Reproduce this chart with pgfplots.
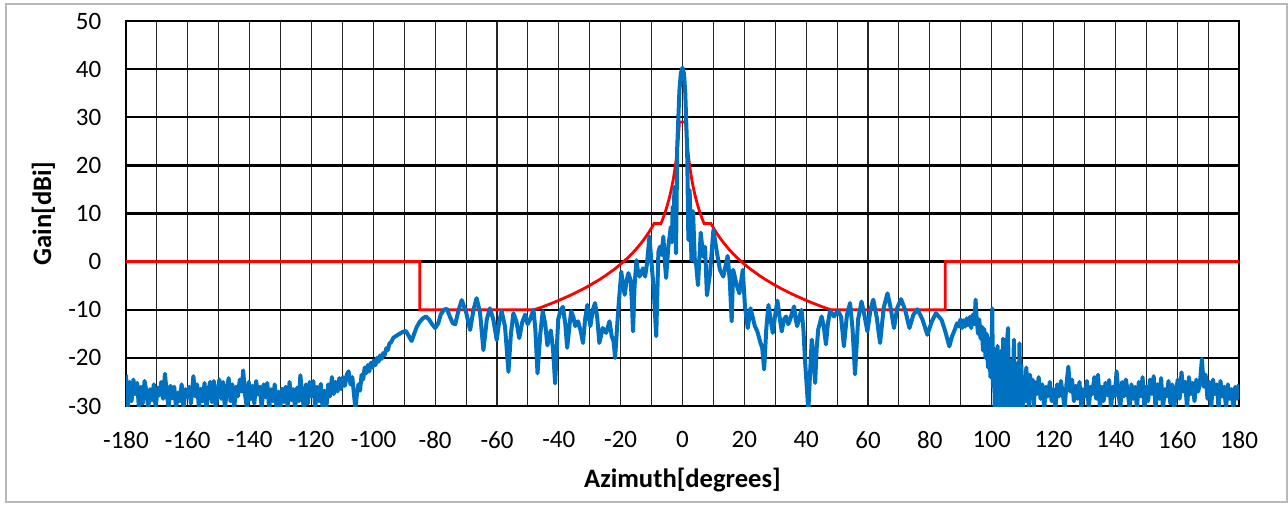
\documentclass[border=0pt]{standalone}
\usepackage{pgfplots}
\pgfplotsset{compat=1.18}
\usepackage{fontspec}
\setmainfont{Carlito}
\definecolor{meas}{HTML}{0070C0}
\definecolor{mask}{HTML}{FF0000}

\begin{document}
\begin{tikzpicture}
\begin{axis}[
  at={(0,0)}, anchor=south west,
  scale only axis,
  width=556.5pt, height=192.5pt,
  xmin=-180, xmax=180, ymin=-30, ymax=50,
  xtick={-180,-160,...,180},
  xticklabels={-180,-160,-140,-120,-100,-80,-60,-40,-20,0,20,40,60,80,100,120,140,160,180},
  minor x tick num=1,
  ytick={-30,-20,...,50},
  yticklabels={-30,-20,-10,0,10,20,30,40,50},
  major tick length=0pt, minor tick length=0pt,
  xmajorgrids, xminorgrids, ymajorgrids,
  x grid style={black!85, line width=0.55pt},
  minor x grid style={black!85, line width=0.55pt},
  y grid style={black, line width=1.2pt},
  axis line style={black, line width=1.2pt},
  tick label style={font=\fontsize{12.5}{15}\selectfont},
  xticklabel style={yshift=-9.3pt},
  yticklabel style={xshift=-8.8pt},
  xlabel={Azimuth[degrees]},
  ylabel={Gain[dBi]},
  label style={font=\fontsize{13.3}{16}\selectfont\bfseries},
  xlabel style={at={(axis description cs:0.5,0)}, anchor=center, yshift=-37pt},
  ylabel style={at={(axis description cs:-0.0742,0.5)}, anchor=center},
]
% mask
\addplot[mask, line width=1.4pt] coordinates {
(-180,0) (-85,0) (-85,-10) (-48,-10) (-46,-9.57) (-45,-9.33) (-42,-8.58) (-40,-8.05)
(-37,-7.20) (-35,-6.60) (-32,-5.63) (-30,-4.93) (-27,-3.78) (-25,-2.95) (-22,-1.56)
(-20,-0.53) (-18,0.62) (-17,1.24) (-16,1.90) (-15,2.60) (-14,3.35) (-13,4.15) (-12,5.02)
(-11,5.97) (-10,7.00) (-9.2,7.90) (-8,7.90) (-7,7.90) (-6.5,8.68) (-6,9.55) (-5.5,10.49)
(-5,11.53) (-4.5,12.67) (-4,13.95) (-3.5,15.40) (-3,17.07) (-2.5,19.05) (-2,21.47)
(-1.5,24.60) (-1.2,27.00) (-1,29.00)
(1,29.00) (1.2,27.00) (1.5,24.60) (2,21.47) (2.5,19.05) (3,17.07) (3.5,15.40) (4,13.95)
(4.5,12.67) (5,11.53) (5.5,10.49) (6,9.55) (6.5,8.68) (7,7.90) (8,7.90) (9.2,7.90)
(10,7.00) (11,5.97) (12,5.02) (13,4.15) (14,3.35) (15,2.60) (16,1.90) (17,1.24)
(18,0.62) (20,-0.53) (22,-1.56) (25,-2.95) (27,-3.78) (30,-4.93) (32,-5.63) (35,-6.60)
(37,-7.20) (40,-8.05) (42,-8.58) (45,-9.33) (46,-9.57) (48,-10) (85,-10) (85,0) (180,0)
};
% measured pattern
\addplot[meas, line width=2pt, line join=round] table {
x y
-180.0 -23.5
-179.4 -30.5
-178.8 -25.0
-178.2 -29.0
-177.6 -24.5
-177.0 -27.5
-176.4 -25.2
-175.8 -30.5
-175.2 -26.0
-174.6 -29.5
-174.0 -24.8
-173.4 -27.0
-172.8 -30.5
-172.2 -26.5
-171.6 -28.8
-171.0 -25.5
-170.4 -30.5
-169.8 -26.2
-169.2 -27.8
-168.6 -25.0
-168.0 -28.5
-167.4 -23.3
-166.8 -27.5
-166.2 -30.5
-165.6 -25.8
-165.0 -28.4
-164.4 -26.0
-163.8 -30.5
-163.2 -27.2
-162.6 -29.0
-162.0 -25.5
-161.4 -30.5
-160.8 -26.5
-160.2 -28.2
-159.6 -26.0
-159.0 -29.5
-158.2 -23.8
-157.6 -28.0
-157.0 -25.5
-156.4 -30.5
-155.8 -26.4
-155.2 -29.0
-154.6 -25.2
-154.0 -30.5
-153.4 -27.0
-152.8 -25.0
-152.2 -29.2
-151.6 -24.8
-151.0 -30.5
-150.4 -27.5
-149.8 -24.5
-149.2 -28.5
-148.6 -25.0
-148.0 -30.5
-147.4 -26.8
-146.8 -24.2
-146.2 -29.0
-145.6 -25.5
-145.0 -30.5
-144.4 -26.0
-143.8 -28.0
-143.2 -24.5
-142.6 -27.0
-142.1 -22.6
-141.5 -27.5
-140.9 -30.5
-140.3 -25.0
-139.7 -28.6
-139.1 -25.8
-138.5 -29.5
-137.9 -24.8
-137.3 -27.6
-136.7 -26.0
-136.1 -30.5
-135.5 -25.5
-134.9 -28.2
-134.3 -25.2
-133.7 -30.5
-133.1 -26.5
-132.5 -29.0
-131.9 -25.5
-131.3 -30.5
-130.7 -27.0
-130.1 -30.5
-129.5 -26.4
-128.9 -29.2
-128.3 -26.0
-127.7 -30.5
-127.1 -25.0
-126.5 -28.8
-125.9 -26.5
-125.3 -30.5
-124.7 -26.2
-124.1 -29.0
-123.6 -23.6
-123.0 -28.2
-122.4 -30.5
-121.8 -25.5
-121.2 -29.5
-120.6 -25.0
-120.0 -28.0
-119.4 -24.8
-118.8 -30.5
-118.2 -26.0
-117.6 -29.0
-117.0 -25.4
-116.4 -30.5
-115.8 -26.8
-115.2 -30.5
-114.6 -25.5
-114.0 -28.0
-113.4 -24.0
-112.8 -27.5
-112.2 -25.0
-111.6 -27.0
-111.0 -24.2
-110.4 -26.5
-109.8 -24.0
-109.2 -25.8
-108.6 -23.5
-108.0 -22.8
-107.4 -25.5
-106.8 -24.0
-106.2 -28.0
-105.8 -30.5
-105.3 -27.5
-104.8 -25.5
-104.3 -26.8
-103.8 -23.5
-103.3 -24.5
-102.8 -22.0
-102.3 -23.2
-101.8 -21.5
-101.3 -22.8
-100.8 -21.0
-100.3 -22.0
-99.8 -20.5
-99.3 -21.5
-98.8 -20.0
-98.3 -20.8
-97.8 -19.5
-97.3 -20.2
-96.8 -19.0
-96.3 -19.4
-95.8 -18.0
-95.3 -18.4
-94.8 -17.0
-94.3 -16.8
-93.5 -15.8
-92.5 -15.4
-91.5 -15.0
-90.5 -14.6
-89.5 -14.4
-88.5 -15.5
-87.6 -16.5
-86.8 -15.0
-85.9 -13.5
-85.0 -12.5
-84.0 -11.8
-83.0 -11.4
-82.0 -12.0
-81.0 -13.0
-80.0 -13.8
-79.0 -12.8
-78.2 -11.0
-77.2 -10.0
-76.2 -9.8
-75.2 -11.5
-74.3 -12.8
-73.5 -13.0
-72.4 -10.0
-71.4 -8.0
-70.0 -10.5
-68.7 -14.2
-67.6 -10.0
-66.6 -7.6
-65.5 -10.5
-64.4 -18.4
-63.3 -12.0
-62.3 -9.7
-61.2 -12.0
-60.1 -16.3
-59.3 -12.5
-58.5 -10.3
-57.4 -13.5
-56.3 -22.9
-55.5 -15.0
-54.7 -10.7
-53.7 -12.5
-52.8 -15.9
-51.8 -12.5
-50.9 -11.0
-50.1 -13.0
-49.3 -12.0
-48.2 -10.0
-47.6 -14.0
-46.9 -23.2
-46.0 -15.0
-45.2 -10.3
-44.4 -13.0
-43.7 -17.4
-42.6 -14.3
-41.9 -18.0
-41.2 -25.3
-40.2 -12.0
-39.5 -10.2
-38.7 -9.4
-37.9 -13.0
-37.3 -17.9
-36.6 -13.5
-36.0 -10.3
-35.3 -11.5
-34.7 -13.4
-33.8 -12.4
-32.9 -14.5
-32.2 -16.9
-31.5 -12.0
-30.8 -9.0
-29.8 -13.4
-29.0 -10.0
-28.3 -8.6
-27.6 -11.5
-26.9 -16.9
-25.8 -13.8
-24.7 -14.8
-23.6 -12.4
-22.9 -15.5
-22.3 -16.5
-21.8 -20.0
-21.2 -14.0
-20.7 -9.3
-19.8 -2.1
-19.3 -4.5
-18.7 -6.9
-18.1 -4.0
-17.5 -2.4
-16.8 -3.8
-16.4 -8.0
-16.0 -14.5
-15.5 -5.0
-14.9 0.3
-14.4 -2.0
-13.9 -3.1
-12.8 -1.4
-12.1 -3.1
-11.5 -0.5
-10.7 5.2
-9.8 -2.0
-9.3 -5.9
-8.5 -15.5
-7.8 2.0
-7.3 3.1
-6.7 1.4
-6.2 5.2
-5.6 -1.0
-5.3 -3.4
-4.6 3.1
-4.2 5.0
-3.8 7.2
-3.4 4.0
-3.2 11.4
-2.9 8.0
-2.6 15.5
-2.1 1.7
-1.7 23.9
-1.0 35.6
-0.5 39.3
0.0 40.3
0.5 39.0
0.9 35.0
1.5 23.2
1.9 4.5
2.3 14.9
2.9 0.3
3.4 10.5
4.0 0.0
4.4 -0.5
5.0 -4.9
5.9 6.0
6.7 1.0
7.3 3.1
7.9 -7.0
8.9 -2.4
10.0 6.6
11.0 2.4
12.1 -1.7
13.2 -3.1
14.6 1.2
15.3 -4.0
15.9 -12.4
16.4 -1.7
17.5 -4.8
18.4 -6.6
19.5 -1.7
20.2 -9.3
21.1 -13.8
22.0 -9.7
23.4 -13.4
24.2 -14.5
25.1 -16.6
25.8 -18.0
26.4 -22.4
27.1 -14.0
27.8 -9.0
28.5 -12.0
29.2 -14.8
30.0 -11.0
30.7 -8.1
31.4 -11.5
32.1 -14.5
32.8 -12.0
33.5 -11.4
34.2 -13.0
34.8 -12.1
35.5 -10.5
36.1 -9.3
36.6 -12.0
37.1 -13.4
37.8 -11.5
38.5 -10.0
39.1 -14.0
39.6 -20.3
40.2 -26.0
40.7 -31.0
41.2 -24.0
41.8 -16.2
42.4 -20.0
42.9 -25.2
43.4 -18.0
43.9 -14.1
45.0 -11.4
45.7 -13.5
46.4 -17.2
47.0 -13.0
47.7 -10.3
48.4 -10.8
49.0 -11.4
49.8 -10.6
50.4 -10.3
51.3 -11.5
52.2 -17.6
53.2 -11.0
54.2 -8.6
55.0 -14.0
55.8 -23.4
56.8 -12.0
57.9 -8.3
58.8 -11.0
59.8 -14.5
60.8 -10.0
61.7 -7.9
62.8 -11.5
63.9 -16.9
65.1 -9.5
66.3 -6.6
67.3 -9.5
68.4 -13.8
69.5 -9.5
70.7 -7.8
72.0 -10.0
73.4 -13.8
74.7 -11.0
76.0 -9.9
77.6 -12.0
79.2 -15.2
80.6 -12.5
82.0 -10.7
83.0 -11.5
83.8 -12.1
85.0 -14.5
86.3 -17.6
87.2 -15.5
88.1 -14.1
88.8 -12.8
89.4 -13.5
89.9 -12.0
90.4 -13.8
90.9 -12.2
91.4 -13.5
91.9 -11.8
92.4 -13.2
92.9 -11.5
93.4 -13.8
93.9 -11.0
94.4 -13.0
94.8 -7.9
95.2 -12.5
95.6 -15.0
96.0 -12.0
96.4 -16.0
96.8 -13.5
97.2 -18.5
97.6 -14.0
98.0 -20.0
98.4 -15.0
98.8 -22.0
99.2 -16.0
99.6 -24.0
100.0 -17.0
100.2 -9.7
100.4 -26.0
100.7 -18.0
101.0 -31.0
101.3 -19.0
101.6 -28.0
101.9 -17.5
102.2 -31.0
102.5 -20.0
102.8 -31.0
103.1 -18.5
103.4 -29.0
103.7 -16.0
104.0 -31.0
104.3 -21.0
104.6 -30.0
104.9 -17.0
105.3 -13.8
105.6 -31.0
105.9 -22.0
106.2 -31.0
106.5 -20.5
106.8 -28.0
107.2 -16.2
107.5 -31.0
107.8 -22.5
108.1 -30.0
108.4 -21.0
108.7 -31.0
109.0 -17.0
109.3 -28.5
109.6 -21.5
110.0 -31.0
110.4 -24.0
110.8 -29.0
111.2 -22.0
111.6 -27.0
112.0 -30.0
112.4 -23.5
112.8 -27.5
113.2 -24.5
113.6 -30.5
114.0 -25.0
114.6 -27.5
115.2 -24.0
115.8 -28.5
116.4 -25.5
117.0 -30.5
117.6 -26.0
118.2 -28.0
118.8 -25.0
119.4 -29.0
120.0 -26.5
120.6 -30.5
121.2 -25.5
121.8 -28.0
122.4 -24.8
123.0 -27.5
123.6 -30.5
124.2 -25.5
124.8 -21.8
125.4 -27.0
126.0 -24.5
126.6 -29.0
127.2 -25.8
127.8 -28.5
128.4 -25.0
129.0 -30.5
129.6 -26.5
130.2 -28.0
130.8 -24.8
131.4 -30.5
132.0 -26.0
132.6 -27.5
133.2 -24.0
133.8 -28.5
134.4 -23.5
135.0 -30.5
135.6 -26.0
136.2 -29.0
136.8 -25.2
137.4 -27.8
138.0 -24.6
138.6 -30.5
139.2 -26.0
139.8 -28.0
140.4 -22.8
141.0 -27.0
141.6 -30.5
142.2 -25.0
142.8 -28.0
143.4 -24.5
144.0 -27.0
144.6 -30.5
145.2 -25.5
145.8 -28.5
146.4 -26.0
147.0 -30.5
147.6 -25.0
148.2 -28.0
148.8 -24.0
149.4 -30.5
150.0 -26.0
150.6 -29.0
151.2 -24.5
151.8 -27.5
152.4 -23.8
153.0 -30.5
153.6 -25.5
154.2 -28.5
154.8 -24.2
155.4 -30.5
156.0 -26.5
156.6 -28.0
157.2 -24.8
157.8 -29.5
158.4 -25.5
159.0 -30.5
159.6 -27.0
160.2 -24.5
160.8 -28.5
161.4 -23.0
162.0 -27.0
162.6 -25.0
163.2 -30.5
163.8 -24.0
164.4 -27.5
165.0 -25.2
165.6 -29.0
166.2 -24.5
166.8 -27.0
167.4 -25.0
168.0 -20.2
168.6 -26.0
169.2 -23.5
169.8 -28.5
170.4 -25.0
171.0 -30.5
171.6 -24.5
172.2 -27.5
172.8 -25.5
173.4 -30.5
174.0 -24.8
174.6 -28.0
175.2 -26.0
175.8 -30.5
176.4 -25.5
177.0 -28.5
177.6 -26.5
178.2 -30.5
178.8 -26.0
179.4 -28.5
180.0 -25.5
};
\end{axis}
\draw[gray!55, line width=0.8pt] (-60pt,-48pt) rectangle (580.5pt,201pt);
\pgfresetboundingbox
\path[use as bounding box] (-63pt,-49pt) rectangle (581pt,203pt);
\end{tikzpicture}
\end{document}
